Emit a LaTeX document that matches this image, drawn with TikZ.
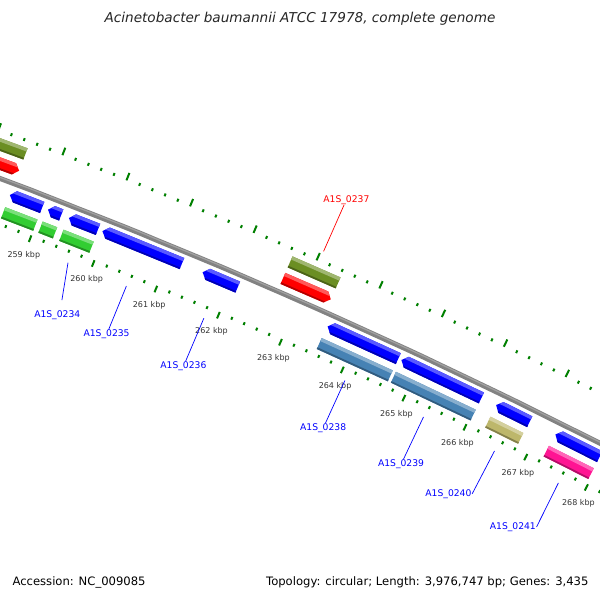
\documentclass[tikz,border=0pt]{standalone}
\usepackage{fontspec}
\setmainfont{DejaVu Sans}

\definecolor{cdsblue}{RGB}{0,0,255}
\definecolor{cdsred}{RGB}{255,0,0}
\definecolor{geneolive}{RGB}{107,142,35}
\definecolor{genegreen}{RGB}{50,205,50}
\definecolor{genesteel}{RGB}{70,130,180}
\definecolor{genekhaki}{RGB}{189,183,107}
\definecolor{genepink}{RGB}{255,20,147}
\definecolor{tickgreen}{RGB}{0,128,0}
\definecolor{spine}{RGB}{130,130,130}

\pgfmathdeclarefunction{kang}{1}{\pgfmathparse{-66.22+0.657*(#1-263)}}

\newcommand{\feature}[7]{%
  \pgfmathsetmacro{\gA}{kang(#1)}%
  \pgfmathsetmacro{\gB}{kang(#2)}%
  \pgfmathsetmacro{\gAh}{kang(#1+#5)}%
  \pgfmathsetmacro{\gBh}{kang(#2-#6)}%
  \pgfmathsetmacro{\gM}{(#3+#4)/2}%
  \pgfmathsetmacro{\gHi}{#4-0.28*(#4-#3)}%
  \pgfmathsetmacro{\gLo}{#3+0.15*(#4-#3)}%
  \begin{scope}
    \clip (\gA:\gM) -- (\gAh:#4) -- (\gBh:#4) -- (\gB:\gM) -- (\gBh:#3) -- (\gAh:#3) -- cycle;
    \fill[#7] ({\gA-0.1}:{#3-1}) -- ({\gA-0.1}:{#4+1}) -- ({\gB+0.1}:{#4+1}) -- ({\gB+0.1}:{#3-1}) -- cycle;
    \fill[#7!65!white] ({\gA-0.1}:\gHi) -- ({\gA-0.1}:{#4+1}) -- ({\gB+0.1}:{#4+1}) -- ({\gB+0.1}:\gHi) -- cycle;
    \fill[#7!70!black] ({\gA-0.1}:{#3-1}) -- ({\gA-0.1}:\gLo) -- ({\gB+0.1}:\gLo) -- ({\gB+0.1}:{#3-1}) -- cycle;
  \end{scope}}

\begin{document}
\begin{tikzpicture}[x=1pt,y=-1pt,
  titletext/.style={font=\fontsize{13.6}{14}\selectfont\itshape, text=black!85},
  foottext/.style={font=\fontsize{11.6}{12}\selectfont, text=black},
  kbplab/.style={font=\fontsize{8}{8}\selectfont, text=black!80, inner sep=0pt},
  cdslab/.style={font=\fontsize{9.2}{9.2}\selectfont, text=cdsblue, inner sep=0.5pt},
  labline/.style={cdsblue, line width=0.7pt},
  tickmaj/.style={tickgreen, line width=2pt},
  tickmin/.style={tickgreen, line width=2pt}]

\useasboundingbox (0,0) rectangle (600,600);
\fill[white] (0,0) rectangle (600,600);

\node[titletext] (title) at (300,19) {Acinetobacter baumannii ATCC 17978, complete genome};
\node[foottext, anchor=west] (accession) at (9,582) {Accession: NC\_009085};
\node[foottext, anchor=east] (topology) at (592,582) {Topology: circular; Length: 3,976,747 bp; Genes: 3,435};

\begin{scope}
\clip (0,0) rectangle (600,600);
\begin{scope}[shift={(-2101,5747)}]

\draw[spine, line width=5pt, line join=round] plot[domain=257.5:268.5, samples=45] ({kang(\x)}:5952);
\draw[spine!75!white, line width=1.2pt] plot[domain=257.5:268.5, samples=45] ({kang(\x)}:5953);

\foreach \i in {1288,...,1345} {
  \pgfmathsetmacro{\ta}{kang(\i/5)}
  \pgfmathtruncatemacro{\tm}{mod(\i,5)}
  \ifnum\tm=0
    \draw[tickmaj] (\ta:5903) -- (\ta:5910);
    \draw[tickmaj] (\ta:5996) -- (\ta:6004);
  \else
    \draw[tickmin] (\ta:5907.5) -- (\ta:5910.5);
    \draw[tickmin] (\ta:5995.5) -- (\ta:5998.5);
  \fi
}

\foreach \k in {259,...,268} {
  \node[kbplab] (kb\k) at ({kang(\k)}:5889) {\k\ kbp};
}

\feature{256.8}{258.49}{5978}{5990}{0}{0}{geneolive}
\feature{262.657}{263.42}{5978}{5990}{0}{0}{geneolive}
\feature{256.8}{258.49}{5960}{5972}{0}{0.08}{cdsred}
\feature{262.657}{263.42}{5960}{5972}{0}{0.08}{cdsred}

\feature{258.49}{259.0}{5934}{5946}{0.08}{0}{cdsblue}
\feature{259.09}{259.30}{5934}{5946}{0.08}{0}{cdsblue}
\feature{259.42}{259.88}{5934}{5946}{0.08}{0}{cdsblue}
\feature{259.95}{261.21}{5934}{5946}{0.08}{0}{cdsblue}
\feature{261.54}{262.10}{5934}{5946}{0.08}{0}{cdsblue}
\feature{263.54}{264.68}{5934}{5946}{0.08}{0}{cdsblue}
\feature{264.73}{266.03}{5934}{5946}{0.08}{0}{cdsblue}
\feature{266.27}{266.82}{5934}{5946}{0.08}{0}{cdsblue}
\feature{267.24}{267.97}{5934}{5946}{0.08}{0}{cdsblue}

\feature{258.49}{259.0}{5915}{5927}{0}{0}{genegreen}
\feature{259.08}{259.31}{5915}{5927}{0}{0}{genegreen}
\feature{259.41}{259.89}{5915}{5927}{0}{0}{genegreen}
\feature{263.53}{264.68}{5915}{5927}{0}{0}{genesteel}
\feature{264.73}{266.03}{5915}{5927}{0}{0}{genesteel}
\feature{266.27}{266.81}{5915}{5927}{0}{0}{genekhaki}
\feature{267.23}{267.97}{5915}{5927}{0}{0}{genepink}

\coordinate (g0234) at ({kang(259.65)}:5898);
\coordinate (e0234) at ({kang(259.77)}:5861);
\coordinate (g0235) at ({kang(260.58)}:5898);
\coordinate (g0236) at ({kang(261.82)}:5898);
\coordinate (g0237) at ({kang(263.04)}:6007);
\coordinate (g0238) at ({kang(264.10)}:5898);
\coordinate (g0239) at ({kang(265.38)}:5898);
\coordinate (g0240) at ({kang(266.545)}:5898);
\coordinate (g0241) at ({kang(267.60)}:5898);

\node[cdslab] (l0234) at ({kang(259.79)}:5845) {A1S\_0234};
\node[cdslab] (l0235) at ({kang(260.58)}:5845.5) {A1S\_0235};
\node[cdslab] (l0236) at ({kang(261.82)}:5845.5) {A1S\_0236};
\node[cdslab, text=cdsred] (l0237) at ({kang(263.04)}:6063.5) {A1S\_0237};
\node[cdslab] (l0238) at ({kang(264.10)}:5845.5) {A1S\_0238};
\node[cdslab] (l0239) at ({kang(265.38)}:5845.5) {A1S\_0239};
\node[cdslab] (l0240) at ({kang(266.21)}:5839.3) {A1S\_0240};
\node[cdslab] (l0241) at ({kang(267.29)}:5838.3) {A1S\_0241};

\draw[labline] (g0234) -- (e0234);
\draw[labline] (g0235) -- (l0235);
\draw[labline] (g0236) -- (l0236);
\draw[labline, cdsred] (g0237) -- (l0237);
\draw[labline] (g0238) -- (l0238);
\draw[labline] (g0239) -- (l0239);
\draw[labline] (g0240) -- (l0240.east);
\draw[labline] (g0241) -- (l0241.east);

\end{scope}
\end{scope}
\end{tikzpicture}
\end{document}
